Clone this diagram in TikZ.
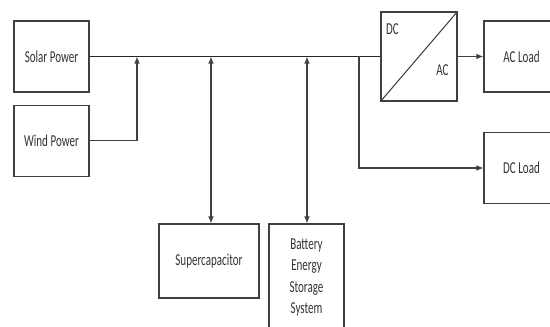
\documentclass[tikz,border=0pt]{standalone}
\usepackage{fontspec}
\setmainfont{Carlito}[FakeStretch=0.66]
\usetikzlibrary{arrows.meta, positioning}
\tikzstyle{block} = [rectangle, 
minimum width=1.5cm, 
minimum height=1.42cm, 
text centered, 
draw=black!75, 
line width=0.6pt, 
text=black!80]
\tikzstyle{arrow} = [line width=0.6pt, draw=black!75, -{Latex[length=4pt,width=3.2pt]}]
\tikzstyle{twoway} = [line width=0.6pt, draw=black!75, {Latex[length=4pt,width=3.2pt]}-{Latex[length=4pt,width=3.2pt]}]
\tikzstyle{bus} = [line width=1pt, draw=black!85]

\begin{document}
\begin{tikzpicture}[x=0.02cm, y=-0.02cm, node distance=0.24cm, font=\fontsize{9.5}{12}\selectfont]
        \useasboundingbox (0,0) rectangle (550,327);
        \clip (0,0) rectangle (550,327);

        % --- Nodes ---
        \node (solar) [block] at (51.5,56.5) {Solar Power};
        
        \node (wind) [block, below=of solar] {Wind Power};
        
        \node (conv) [block, minimum width=1.52cm, minimum height=1.78cm] at (419,56.5) {};
        \node (dc) [text=black!80] at ([xshift=0.24cm, yshift=-0.36cm]conv.north west) {DC};
        \node (ac) [text=black!80] at ([xshift=-0.3cm, yshift=0.62cm]conv.south east) {AC};
        
        \node (acload) [block] at (521.5,56.5) {AC Load};
        
        \node (dcload) [block] at (521.5,168) {DC Load};
        
        \node (supercap) [block, minimum width=2cm, minimum height=1.48cm] at (209,261) {Supercapacitor};
        
        \node (bess) [block, minimum height=2.14cm, align=center] at (306.5,277.5) {Battery\\Energy\\Storage\\System};

        % --- Bus taps ---
        \coordinate (j1) at (137,56.5);
        \coordinate (j2) at (211,56.5);
        \coordinate (j3) at (307,56.5);
        \coordinate (j4) at (359,56.5);

        % --- Connections ---
        \draw [line width=0.6pt, draw=black!75] (conv.south west) -- (conv.north east);
        \draw [bus] (solar.east) -- (conv.west);
        \draw [arrow] (wind.east) -| (j1);
        \draw [twoway] (j2) -- (j2 |- supercap.north);
        \draw [twoway] (j3) -- (j3 |- bess.north);
        \draw [arrow] (j4) |- (dcload.west);
        \draw [arrow, line width=1pt] (conv.east) -- (acload.west);

    \end{tikzpicture}
\end{document}
